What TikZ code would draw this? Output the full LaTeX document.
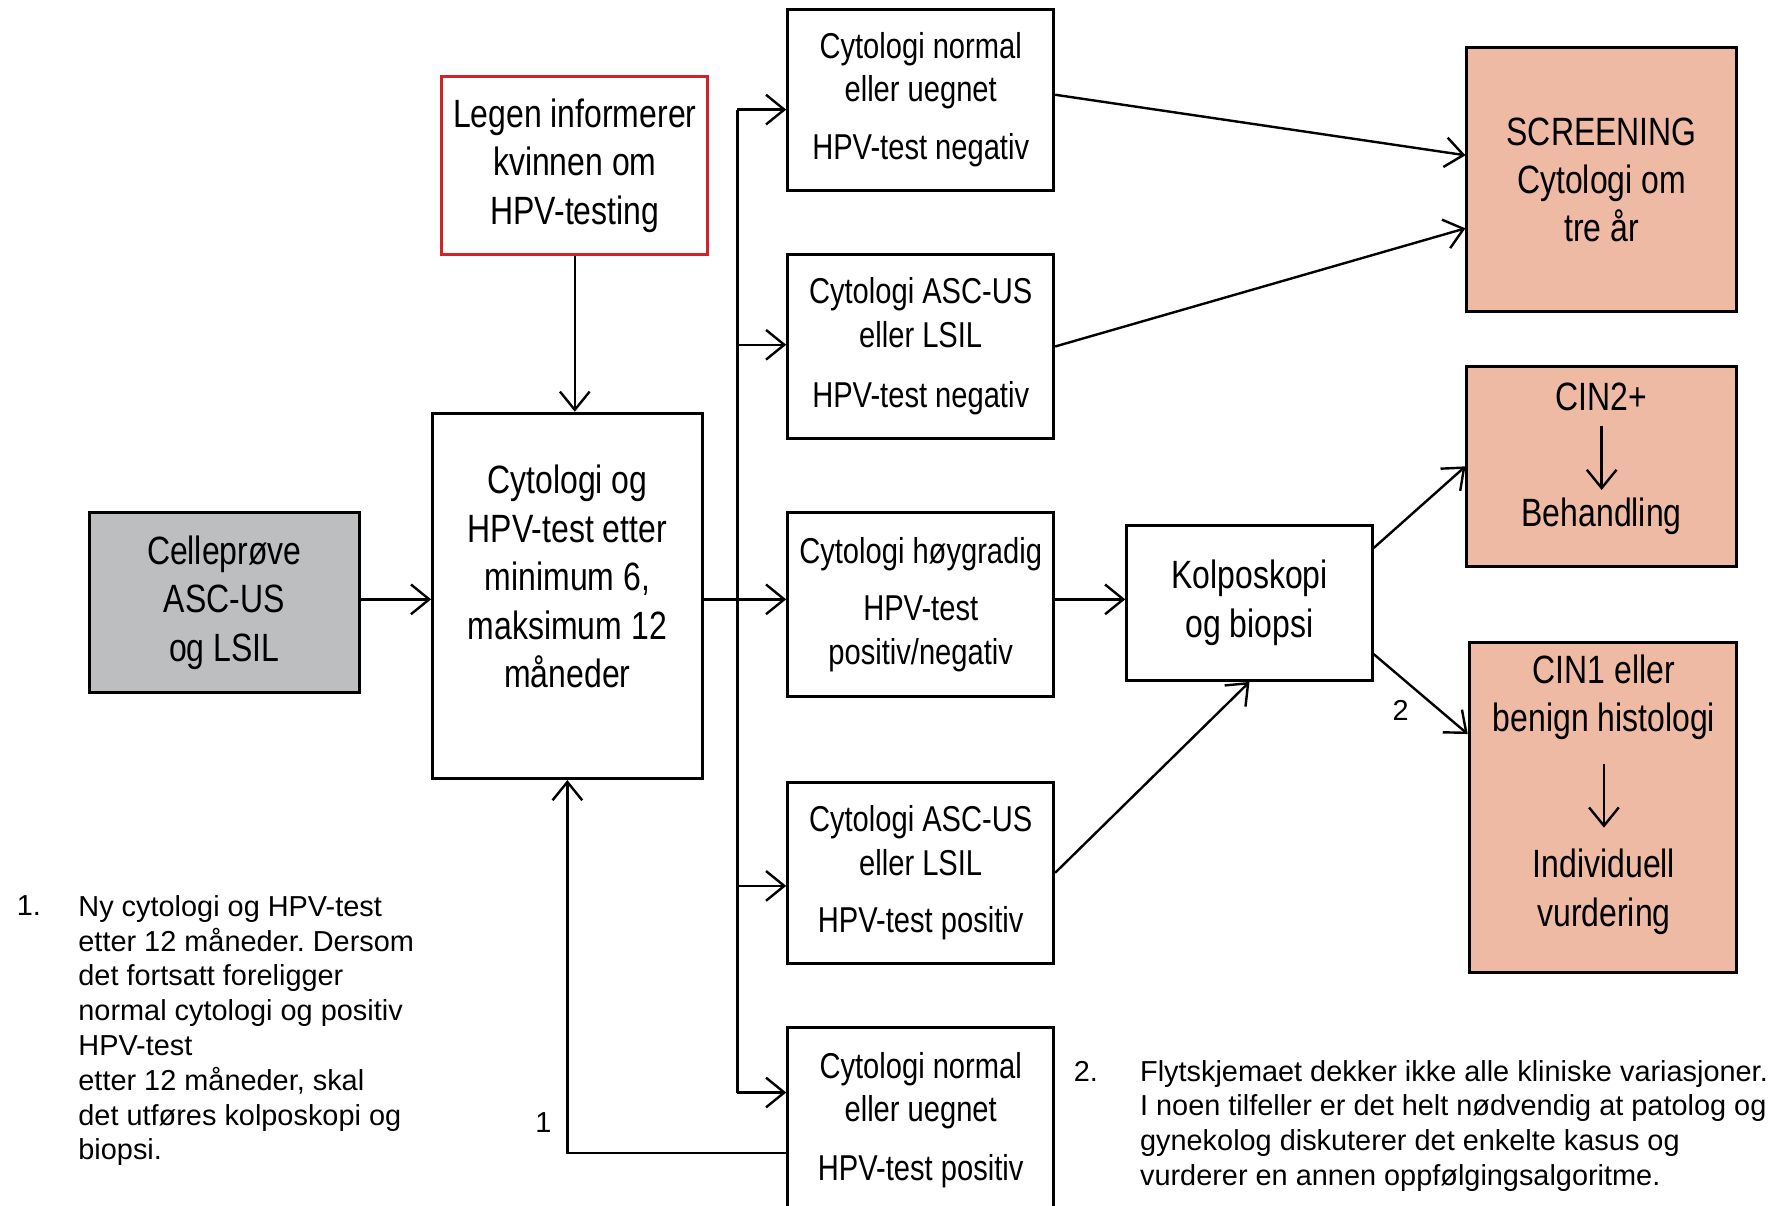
\documentclass[tikz,border=0pt]{standalone}
\usepackage{fontspec}
\setmainfont{Liberation Sans}
\newfontfamily\narrowsans[FakeStretch=0.81]{Liberation Sans}
\usetikzlibrary{arrows.meta}
\definecolor{salmon}{HTML}{EEBAA4}
\definecolor{boxgray}{HTML}{BDBEC0}
\definecolor{boxred}{HTML}{D2232A}
\frenchspacing

\begin{document}
\begin{tikzpicture}[
  box/.style={draw, line width=0.75pt, inner sep=0pt, align=center, font=\narrowsans\fontsize{9.84}{12.06}\selectfont},
  res/.style={box, minimum width=2.33cm, font=\narrowsans\fontsize{8.96}{10.81}\selectfont},
  txt/.style={inner sep=0pt, align=center, font=\narrowsans\fontsize{9.84}{12.06}\selectfont},
  note/.style={inner sep=0pt, align=left, font=\fontsize{7.2}{8.68}\selectfont},
  arr/.style={line width=0.6pt, -{Straight Barb[length=1.6mm,width=2.6mm]}},
  ln/.style={line width=0.6pt}
]
\useasboundingbox (0,0) rectangle (15.68,-10.56);

\node[box, draw=boxred, minimum width=2.33cm, minimum height=1.56cm] (legen) at (5.035,-1.45) {Legen informerer\\kvinnen om\\HPV-testing};
\node[box, minimum width=2.36cm, minimum height=3.2cm] (cyt) at (4.97,-5.22) {};
\node[txt] (cyttxt) at (4.97,-5.05) {Cytologi og\\HPV-test etter\\minimum 6,\\maksimum 12\\måneder};
\node[box, fill=boxgray, minimum width=2.37cm, minimum height=1.58cm] (celle) at (1.965,-5.28) {Celleprøve\\ASC-US\\og LSIL};

\node[res, minimum height=1.59cm] (b1) at (8.065,-0.875) {Cytologi normal\\eller uegnet\\[0.13cm]HPV-test negativ};
\node[res, minimum height=1.61cm] (b2) at (8.065,-3.035) {Cytologi ASC-US\\eller LSIL\\[0.15cm]HPV-test negativ};
\node[res, minimum height=1.61cm] (b3) at (8.065,-5.295) {Cytologi høygradig\\[0.12cm]HPV-test\\positiv/negativ};
\node[res, minimum height=1.59cm] (b4) at (8.065,-7.645) {Cytologi ASC-US\\eller LSIL\\[0.12cm]HPV-test positiv};
\node[res, minimum height=1.62cm] (b5) at (8.065,-9.81) {Cytologi normal\\eller uegnet\\[0.13cm]HPV-test positiv};

\node[box, minimum width=2.15cm, minimum height=1.36cm] (kolp) at (10.945,-5.28) {Kolposkopi\\og biopsi};

\node[box, fill=salmon, minimum width=2.36cm, minimum height=2.31cm] (scr) at (14.03,-1.575) {SCREENING\\Cytologi om\\tre år};
\node[box, fill=salmon, minimum width=2.36cm, minimum height=1.75cm] (cin2) at (14.03,-4.085) {};
\node[txt] (cin2a) at (14.03,-3.48) {CIN2+};
\node[txt] (cin2b) at (14.03,-4.52) {Behandling};
\node[box, fill=salmon, minimum width=2.34cm, minimum height=2.89cm] (cin1) at (14.04,-7.075) {};
\node[txt] (cin1a) at (14.05,-6.11) {CIN1 eller\\benign histologi};
\node[txt] (cin1b) at (14.05,-7.81) {Individuell\\vurdering};

\coordinate (t1) at (6.46,-0.96);
\coordinate (t2) at (6.46,-3.02);
\coordinate (t3) at (6.46,-5.25);
\coordinate (t4) at (6.46,-7.76);
\coordinate (t5) at (6.46,-9.57);

\draw[arr] (legen.south) -- (legen.south |- cyt.north);
\draw[arr] (celle.east |- t3) -- (cyt.west |- t3);
\draw[arr] (cyt.east |- t3) -- (b3.west |- t3);
\draw[ln] (t1) -- (t5);
\foreach \t/\b in {t1/b1,t2/b2,t4/b4,t5/b5}
  \draw[arr] (\t) -- (\t -| \b.west);
\draw[arr] ([yshift=-0.29cm]b5.west) -| (cyt.south);
\node[note] (lab1) at (4.76,-9.83) {1};

\draw[arr] (b3.east |- t3) -- (kolp.west |- t3);
\draw[arr] (b4.east) -- (kolp.south);
\draw[arr] ([yshift=0.045cm]b1.east) -- ([yshift=0.215cm]scr.west);
\draw[arr] (b2.east) -- ([yshift=-0.425cm]scr.west);
\draw[arr] ([yshift=0.48cm]kolp.east) -- (cin2.west);
\draw[arr] ([yshift=-0.45cm]kolp.east) -- ([yshift=0.645cm]cin1.west);
\node[note] (lab2) at (12.27,-6.22) {2};

\draw[arr, shorten <=0.12cm, shorten >=0.06cm] (cin2a) -- (cin2b);
\draw[arr, shorten <=0.2cm, shorten >=0.18cm] (cin1a) -- (cin1b);

\node[note, anchor=base west] (fn1num) at (0.14,-8.02) {1.};
\node[note, anchor=north west] (fn1) at (0.68,-7.835) {Ny cytologi og HPV-test\\etter 12 måneder. Dersom\\det fortsatt foreligger\\normal cytologi og positiv\\HPV-test\\etter 12 måneder, skal\\det utføres kolposkopi og\\biopsi.};
\node[note, anchor=base west] (fn2num) at (9.40,-9.47) {2.};
\node[note, anchor=north west] (fn2) at (9.98,-9.28) {Flytskjemaet dekker ikke alle kliniske variasjoner.\\I noen tilfeller er det helt nødvendig at patolog og\\gynekolog diskuterer det enkelte kasus og\\vurderer en annen oppfølgingsalgoritme.};
\end{tikzpicture}
\end{document}
